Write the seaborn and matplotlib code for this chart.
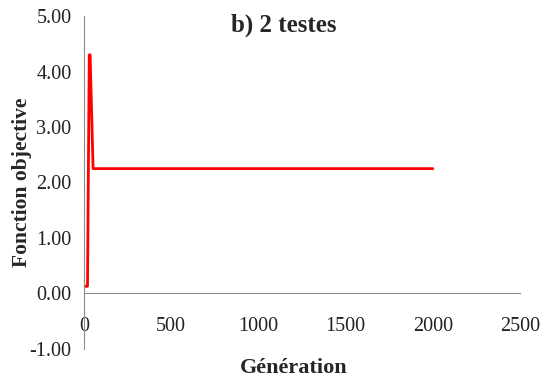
import numpy as np
import pandas as pd
import matplotlib
matplotlib.use("Agg")
import matplotlib.pyplot as plt
import seaborn as sns

# data
generation = [5, 20, 30, 35, 52, 500, 1000, 1500, 2000]
objective = [0.13, 0.13, 4.30, 4.30, 2.25, 2.25, 2.25, 2.25, 2.25]
x_ticks = [0, 500, 1000, 1500, 2000, 2500]
y_ticks = [-1.0, 0.0, 1.0, 2.0, 3.0, 4.0, 5.0]

df = pd.DataFrame({"Génération": generation, "Fonction objective": objective})

sns.set_style("white")
plt.rcParams['font.family'] = ['Liberation Serif', 'DejaVu Serif']

fig = plt.figure(figsize=(5.47, 3.81), dpi=100)
ax = fig.add_axes([0.1536, 0.084, 0.797, 0.874])

sns.lineplot(data=df, x="Génération", y="Fonction objective", color="#ff0000",
             linewidth=2, ax=ax, sort=False)

for s in ["top", "right"]:
    ax.spines[s].set_visible(False)
ax.spines["left"].set_color("#8c8c8c")
ax.spines["bottom"].set_color("#8c8c8c")
ax.spines["bottom"].set_position(("data", 0))

ax.set_xlim(0, 2500)
ax.set_ylim(-1, 5)
ax.set_xticks(x_ticks)
ax.set_yticks(y_ticks)
ax.set_yticklabels([f"{v:.2f}" for v in y_ticks])
ax.set_xticklabels([str(v) for v in x_ticks])
ax.tick_params(axis="both", length=5, color="#8c8c8c", direction="out", width=1,
               labelsize=14.5, labelcolor="#222222")
ax.tick_params(axis="x", pad=12)
ax.tick_params(axis="y", pad=4)

ax.set_xlabel("")
ax.set_ylabel("")
fig.text(0.04, 0.522, "Fonction objective", rotation=90, ha="center", va="center",
         fontsize=15.5, fontweight="bold")
fig.text(0.536, 0.034, "Génération", ha="center", va="center",
         fontsize=16, fontweight="bold")
fig.text(0.519, 0.934, "b) 2 testes", ha="center", va="center",
         fontsize=18, fontweight="bold")

fig.savefig("out.png", dpi=100)
